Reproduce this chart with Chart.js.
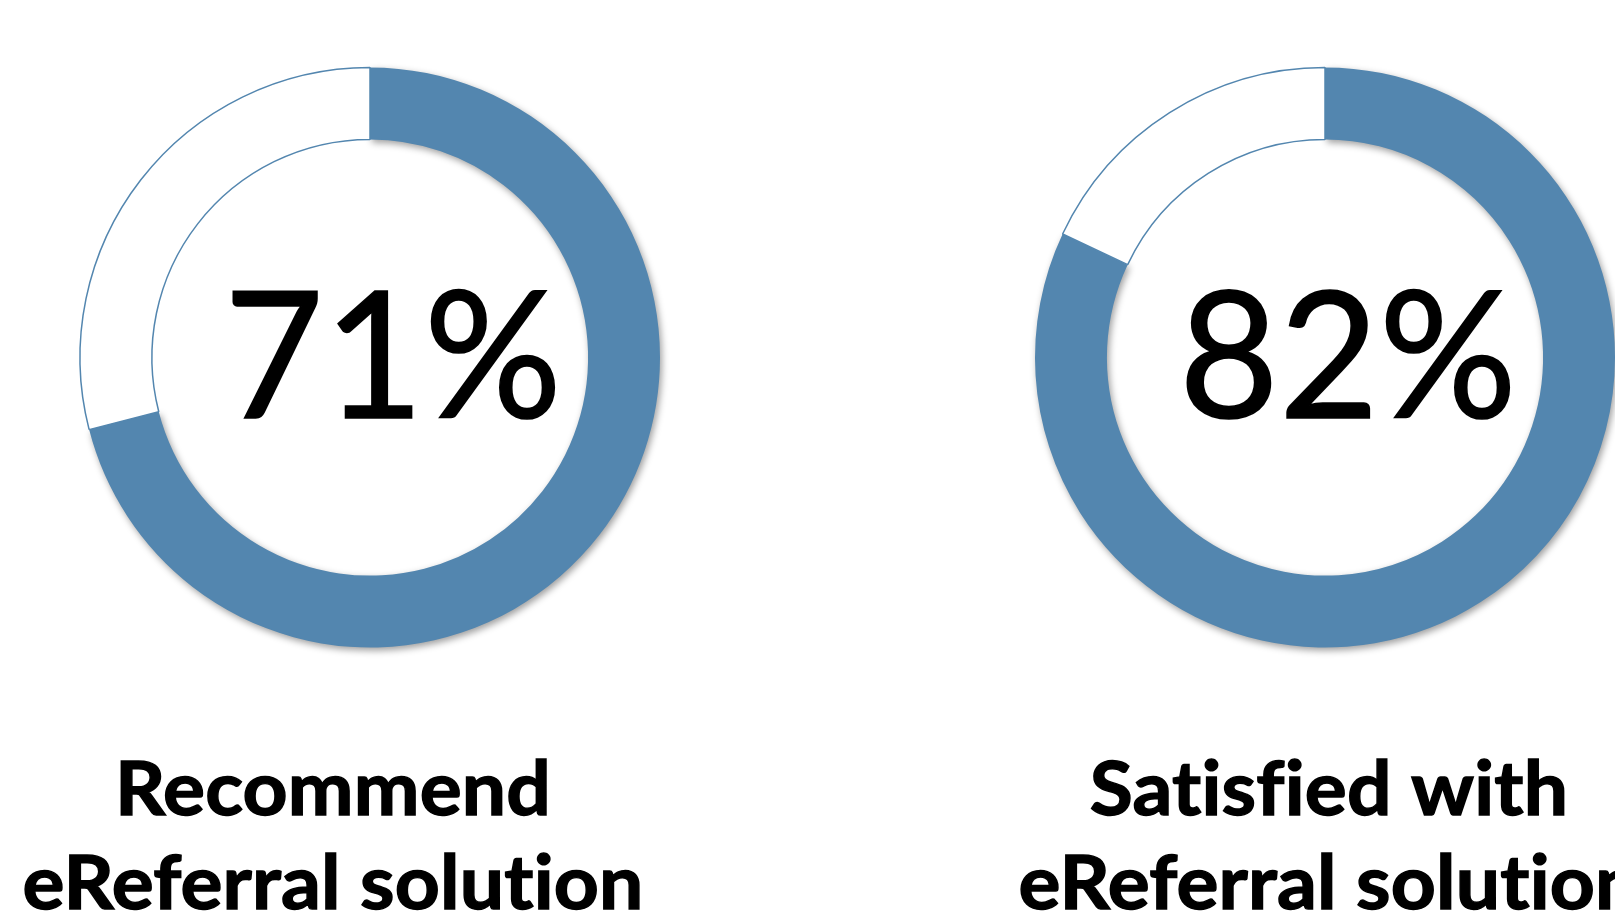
<!DOCTYPE html>
<html>
<head>
<meta charset="utf-8">
<title>eReferral survey</title>
<script src="https://cdn.jsdelivr.net/npm/chart.js@4/dist/chart.umd.min.js"></script>
<style>
  html, body { margin: 0; padding: 0; width: 1615px; height: 921px; overflow: hidden; background: #ffffff; }
  .ring { position: absolute; top: 0; width: 740px; height: 921px; }
  #ringA { left: 0px; }
  #ringB { left: 955px; }
</style>
</head>
<body>
<div class="ring" id="ringA"><canvas id="chartA"></canvas></div>
<div class="ring" id="ringB"><canvas id="chartB"></canvas></div>
<script>
// Survey results: share of respondents per question
const questions = ['Recommend eReferral solution', 'Satisfied with eReferral solution'];
const captionLines = [['Recommend', 'eReferral solution'], ['Satisfied with', 'eReferral solution']];
const agreeShare = [71, 82];
const otherShare = [29, 18];
const sliceNames = ['Yes', 'No'];

const RING_BLUE = '#5386AF';

// Draws the ring's slices, the filled one with a soft drop shadow
const shadowedSlices = {
  id: 'shadowedSlices',
  beforeDatasetDraw(chart, args) {
    const ctx = chart.ctx;
    const meta = args.meta;
    meta.data.forEach((arc, i) => {
      ctx.save();
      if (i === 0) {
        ctx.shadowColor = 'rgba(0,0,0,0.38)';
        ctx.shadowBlur = 7;
        ctx.shadowOffsetX = 2;
        ctx.shadowOffsetY = 3;
      }
      arc.draw(ctx, chart.chartArea);
      ctx.restore();
    });
    return false;
  }
};

// Big percentage in the hole and the two-line caption underneath
const ringText = {
  id: 'ringText',
  afterDraw(chart, args, opts) {
    const ctx = chart.ctx;
    const arc = chart.getDatasetMeta(0).data[0];
    const cx = arc.x, cy = arc.y;
    const value = chart.data.datasets[0].data[0];

    ctx.save();
    ctx.fillStyle = '#000000';
    ctx.textAlign = 'center';
    ctx.textBaseline = 'alphabetic';
    ctx.letterSpacing = '0.2px';

    // percentage
    ctx.font = '176px Lato, "Open Sans", sans-serif';
    const pct = value + '%';
    const pw = ctx.measureText(pct).width;
    const psx = 338 / pw;
    ctx.save();
    ctx.translate(cx + 23, cy + 60);
    ctx.scale(psx, 1);
    ctx.fillText(pct, 0, 0);
    ctx.strokeStyle = '#000000';
    ctx.lineWidth = 1.6;
    ctx.strokeText(pct, 0, 0);
    ctx.restore();

    // caption
    ctx.font = 'bold 75px Lato, "Open Sans", sans-serif';
    const ref = ctx.measureText('Recommend').width;
    const csx = 436 / ref;
    ctx.lineWidth = 1.4;
    ctx.strokeStyle = '#000000';
    opts.lines.forEach((line, k) => {
      ctx.save();
      ctx.translate(cx + opts.dx, cy + 457 + k * 94);
      ctx.scale(csx, 1);
      ctx.fillText(line, 0, 0);
      ctx.strokeText(line, 0, 0);
      ctx.restore();
    });
    ctx.restore();
  }
};

function makeRing(canvasId, idx, captionDx) {
  return new Chart(document.getElementById(canvasId), {
    type: 'doughnut',
    data: {
      labels: sliceNames,
      datasets: [{
        label: questions[idx],
        data: [agreeShare[idx], otherShare[idx]],
        backgroundColor: [RING_BLUE, '#ffffff'],
        borderColor: [RING_BLUE, RING_BLUE],
        borderWidth: [0, 1.5]
      }]
    },
    options: {
      responsive: true,
      maintainAspectRatio: false,
      animation: false,
      radius: 290,
      cutout: '75.2%',
      rotation: 0,
      layout: { padding: { top: 0, bottom: 206, left: 0, right: 0 } },
      plugins: {
        legend: { display: false },
        tooltip: { enabled: false },
        ringText: { lines: captionLines[idx], dx: captionDx }
      }
    },
    plugins: [shadowedSlices, ringText]
  });
}

makeRing('chartA', 0, -37);
makeRing('chartB', 1, 4);
</script>
</body>
</html>
